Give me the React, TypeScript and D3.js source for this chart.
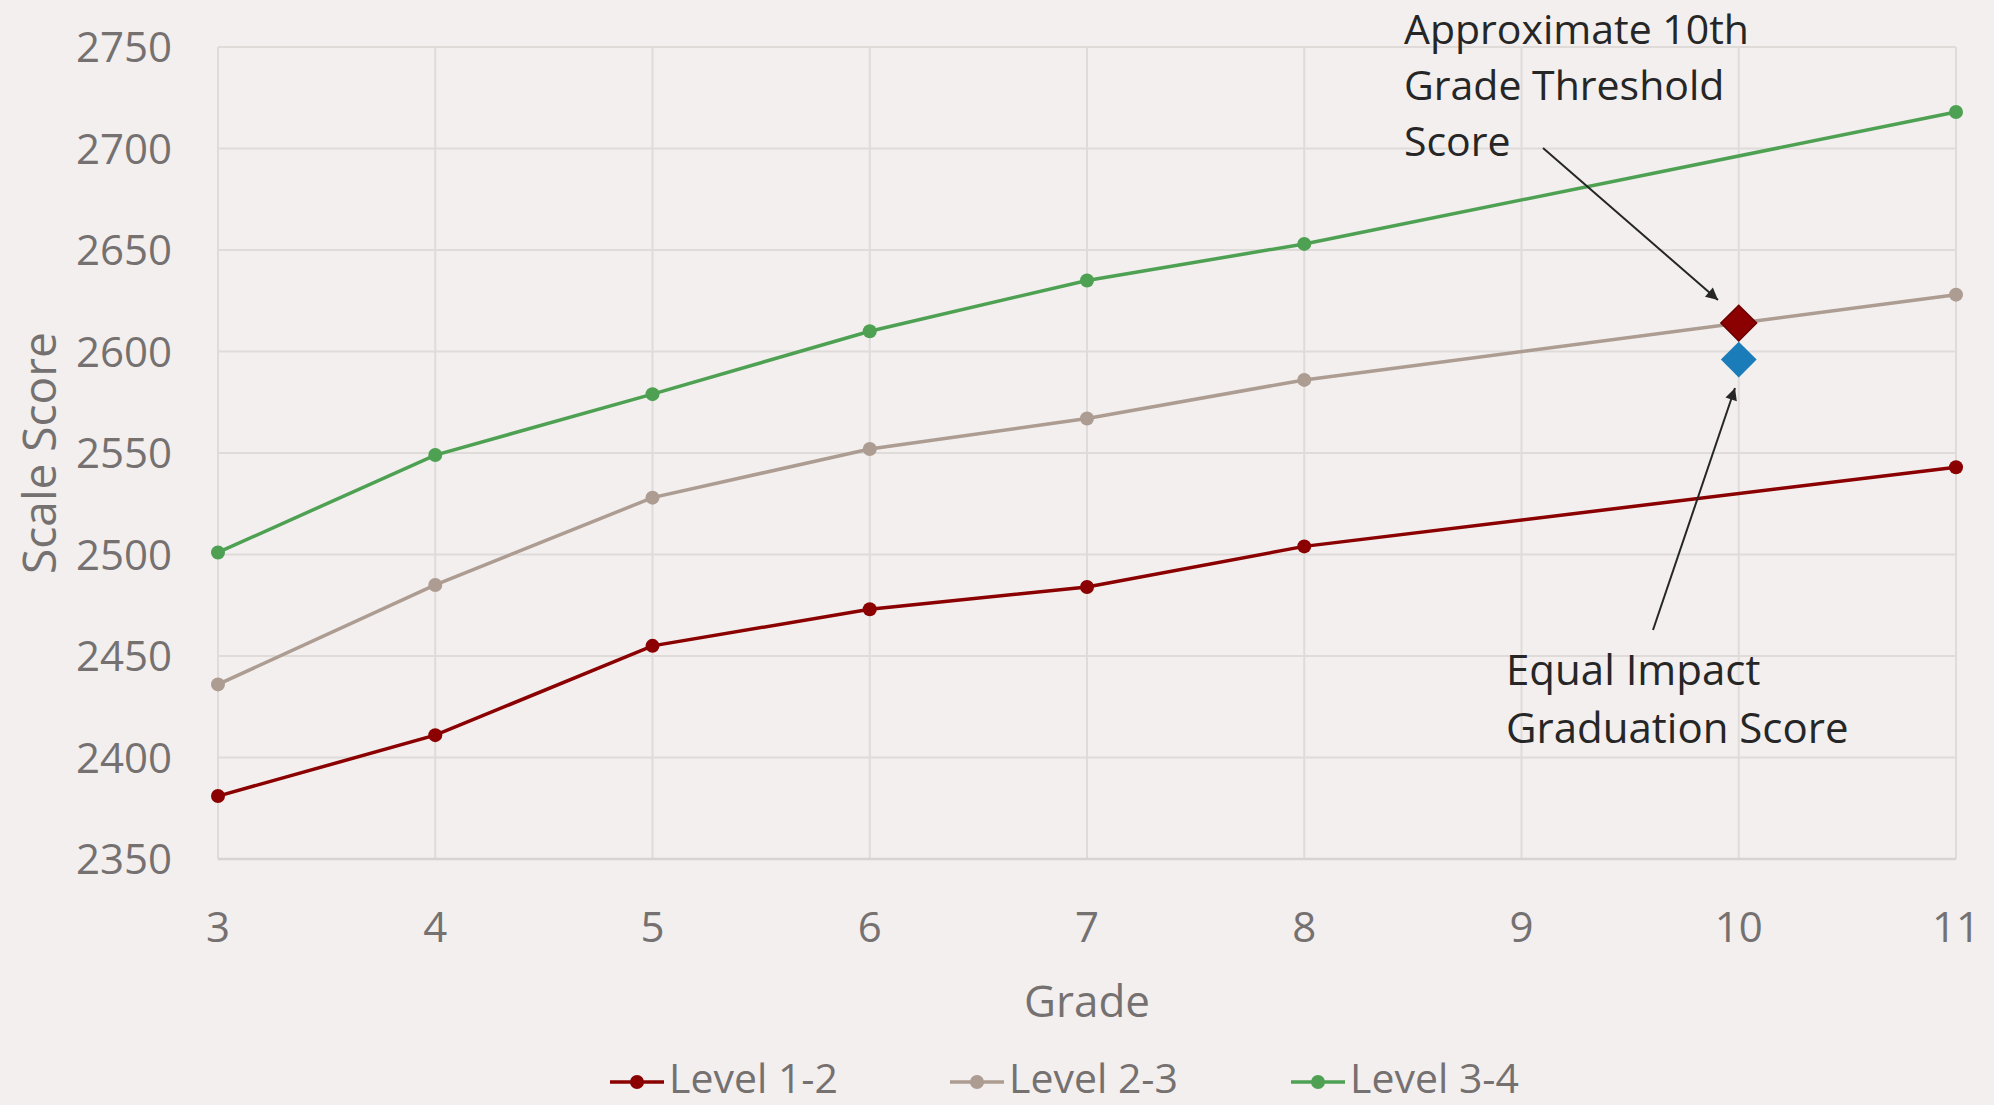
import React from "react";
import * as d3 from "d3";

const gradeTicks = [3, 4, 5, 6, 7, 8, 9, 10, 11];
const gradePoints = [3, 4, 5, 6, 7, 8, 11];
const level12 = [2381, 2411, 2455, 2473, 2484, 2504, 2543];
const level23 = [2436, 2485, 2528, 2552, 2567, 2586, 2628];
const level34 = [2501, 2549, 2579, 2610, 2635, 2653, 2718];
const yTicks = [2350, 2400, 2450, 2500, 2550, 2600, 2650, 2700, 2750];
const markerGrade = 10;
const thresholdScore = 2614;
const equalImpactScore = 2596;
const seriesNames = ["Level 1-2", "Level 2-3", "Level 3-4"];
const seriesColors = ["#8B0000", "#AD9C91", "#4EA152"];
const thresholdLines = ["Approximate 10th", "Grade Threshold", "Score"];
const equalLines = ["Equal Impact", "Graduation Score"];

const W = 1994;
const H = 1105;
const left = 218, right = 1956, top = 47, bottom = 859;
const FONT = "'Open Sans', 'Noto Sans', sans-serif";
const AXIS_COLOR = "#767171";
const TEXT_DARK = "#262626";
const GRID = "#DEDBD9";

export default function App() {
  const x = d3.scaleLinear().domain([3, 11]).range([left, right]);
  const y = d3.scaleLinear().domain([2350, 2750]).range([bottom, top]);
  const allSeries = [level12, level23, level34];
  const line = d3
    .line<[number, number]>()
    .x((d) => x(d[0]))
    .y((d) => y(d[1]));
  const diamond = d3.symbol(d3.symbolSquare, 640)() as string;
  const legendX = [610, 950, 1291];
  const legendY = 1082;

  return (
    <svg
      width={W}
      height={H}
      style={{ position: "absolute", left: 0, top: 0, background: "#F2EFEE" }}
      fontFamily={FONT}
    >
      <defs>
        <marker
          id="arrow"
          viewBox="0 0 10 10"
          refX="10"
          refY="5"
          markerWidth="7"
          markerHeight="6"
          markerUnits="strokeWidth"
          orient="auto"
        >
          <path d="M0,0 L10,5 L0,10 z" fill={TEXT_DARK} />
        </marker>
      </defs>
      <rect x={0} y={0} width={W} height={H} fill="#F2EFEE" />
      {/* grid */}
      {yTicks.map((t) => (
        <line key={"h" + t} x1={left} x2={right} y1={y(t)} y2={y(t)} stroke={GRID} strokeWidth={2} />
      ))}
      {gradeTicks.map((g) => (
        <line key={"v" + g} x1={x(g)} x2={x(g)} y1={top} y2={bottom} stroke={GRID} strokeWidth={2} />
      ))}
      <line x1={left} x2={right} y1={bottom} y2={bottom} stroke="#D6D3D1" strokeWidth={2.5} />
      {/* y tick labels */}
      {yTicks.map((t) => (
        <text key={"yl" + t} x={172} y={y(t) + 15} textAnchor="end" fontSize={42} fill={AXIS_COLOR}>
          {t}
        </text>
      ))}
      {gradeTicks.map((g) => (
        <text key={"xl" + g} x={x(g)} y={942} textAnchor="middle" fontSize={42} fill={AXIS_COLOR}>
          {g}
        </text>
      ))}
      <text transform="translate(56,453) rotate(-90)" textAnchor="middle" fontSize={46} fill={AXIS_COLOR}>
        Scale Score
      </text>
      <text x={(left + right) / 2} y={1017} textAnchor="middle" fontSize={44} fill={AXIS_COLOR}>
        Grade
      </text>
      {/* series */}
      {allSeries.map((vals, i) => {
        const pts = gradePoints.map((g, j) => [g, vals[j]] as [number, number]);
        return (
          <g key={"s" + i}>
            <path d={line(pts) as string} fill="none" stroke={seriesColors[i]} strokeWidth={3.5} />
            {pts.map((p, j) => (
              <circle key={j} cx={x(p[0])} cy={y(p[1])} r={7} fill={seriesColors[i]} />
            ))}
          </g>
        );
      })}
      {/* diamonds */}
      <path
        d={diamond}
        transform={`translate(${x(markerGrade)},${y(thresholdScore)}) rotate(45)`}
        fill="#8B0000"
        stroke="#6A0000"
        strokeWidth={1.5}
      />
      <path
        d={diamond}
        transform={`translate(${x(markerGrade)},${y(equalImpactScore)}) rotate(45)`}
        fill="#1A7DBA"
      />
      {/* annotations */}
      {thresholdLines.map((s, i) => (
        <text key={"ta" + i} x={1404} y={44 + i * 56} fontSize={41} fill={TEXT_DARK}>
          {s}
        </text>
      ))}
      <line x1={1543} y1={148} x2={1718} y2={300} stroke={TEXT_DARK} strokeWidth={2} markerEnd="url(#arrow)" />
      {equalLines.map((s, i) => (
        <text key={"ea" + i} x={1506} y={685 + i * 58} fontSize={42} fill={TEXT_DARK}>
          {s}
        </text>
      ))}
      <line x1={1653} y1={630} x2={1735} y2={388} stroke={TEXT_DARK} strokeWidth={2} markerEnd="url(#arrow)" />
      {/* legend */}
      {seriesNames.map((name, i) => (
        <g key={"lg" + i}>
          <line x1={legendX[i]} x2={legendX[i] + 54} y1={legendY} y2={legendY} stroke={seriesColors[i]} strokeWidth={3.5} />
          <circle cx={legendX[i] + 27} cy={legendY} r={7} fill={seriesColors[i]} />
          <text x={legendX[i] + 59} y={legendY + 11} fontSize={41} fill={AXIS_COLOR}>
            {name}
          </text>
        </g>
      ))}
    </svg>
  );
}
